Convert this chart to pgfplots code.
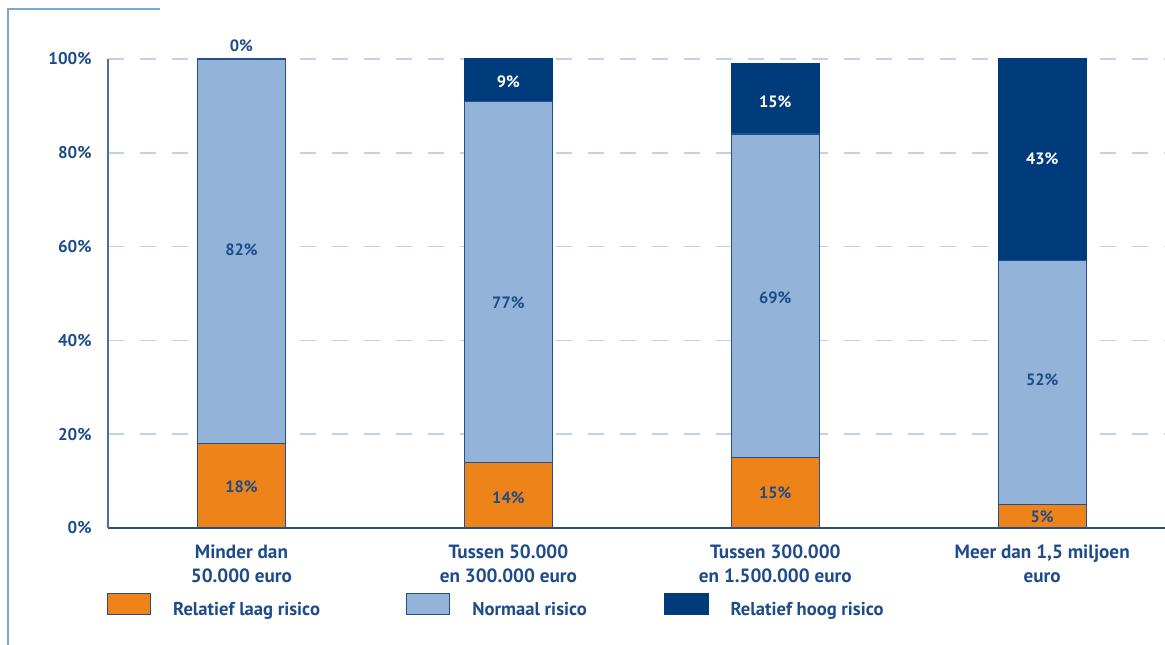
\documentclass[border=0pt]{standalone}
\usepackage{pgfplots}
\pgfplotsset{compat=1.18}
\usepackage{fontspec}
\setmainfont{PT Sans}
\definecolor{orangeb}{HTML}{EE8419}
\definecolor{lightb}{HTML}{94B3D9}
\definecolor{darkb}{HTML}{003B7B}
\definecolor{txtb}{HTML}{1E4C8A}
\definecolor{gridb}{HTML}{C3D1E6}
\definecolor{edgeb}{HTML}{23508C}
\definecolor{yaxisc}{HTML}{4C6E9C}
\definecolor{framec}{HTML}{7AA6D6}
\pgfplotsset{
  common/.style={scale only axis, width=528.5pt, height=234.5pt,
    xmin=-0.5, xmax=3.46, ymin=0, ymax=100, clip=false},
}
\begin{document}
\begin{tikzpicture}
\begin{axis}[
  common,
  ybar stacked, bar width=44pt,
  xtick={0,1,2,3},
  xticklabels={{Minder dan\\50.000 euro},{Tussen 50.000\\en 300.000 euro},{Tussen 300.000\\en 1.500.000 euro},{Meer dan 1,5 miljoen\\euro}},
  xticklabel style={align=center, font=\fontsize{9.6}{12}\selectfont\bfseries, text=txtb, anchor=north, inner sep=0pt, yshift=-8pt},
  ytick={0,20,40,60,80,100},
  yticklabels={0\%,20\%,40\%,60\%,80\%,100\%},
  yticklabel style={font=\fontsize{8.5}{12}\selectfont\bfseries, text=txtb, anchor=east, inner sep=0pt, xshift=-8pt},
  major tick length=0pt,
  tick style={draw=none},
  ymajorgrids, major grid style={gridb, line width=0.8pt, dash pattern=on 8pt off 8pt},
  axis x line*=bottom, axis y line*=left,
  x axis line style={-, draw=edgeb, line width=1pt},
  y axis line style={-, draw=yaxisc, line width=0.9pt},
  legend columns=3,
  legend style={draw=none, fill=none, at={(rel axis cs:0,0)}, anchor=north west, yshift=-32.5pt, xshift=-0.5pt, inner sep=0pt, outer sep=0pt, column sep=0pt, font=\fontsize{9.3}{12}\selectfont\bfseries, text=txtb, nodes={inner sep=0pt}},
  legend image code/.code={\draw[#1] (0pt,-2.25pt) rectangle (21.5pt,8.25pt);},
  /tikz/every odd column/.append style={column sep=11pt},
]
\addplot[fill=orangeb, draw=edgeb, line width=0.6pt] coordinates {(0,18) (1,14) (2,15) (3,5)};
\addlegendentry{\makebox[116.5pt][l]{Relatief laag risico}}
\addplot[fill=lightb, draw=edgeb, line width=0.6pt] coordinates {(0,82) (1,77) (2,69) (3,52)};
\addlegendentry{\makebox[96pt][l]{Normaal risico}}
\addplot[fill=darkb, draw=darkb, line width=0.6pt] coordinates {(0,0) (1,9) (2,15) (3,43)};
\addlegendentry{Relatief hoog risico}
\coordinate (O) at (rel axis cs:0,0);
\coordinate (T) at (rel axis cs:0,1);
\coordinate (R) at (rel axis cs:1,1);
\end{axis}
\begin{axis}[common, hide axis]
\addplot[only marks, mark=none, nodes near coords, point meta=explicit symbolic,
  every node near coord/.style={anchor=center, inner sep=0pt, font=\fontsize{8.2}{10}\selectfont\bfseries, text=txtb}]
  coordinates {(0,8.7) [18\%] (1,6.4) [14\%] (2,7.5) [15\%] (3,2.3) [5\%]
               (0,59.3) [82\%] (1,48) [77\%] (2,49) [69\%] (3,31.6) [52\%] (0,102.8) [0\%]};
\addplot[only marks, mark=none, nodes near coords, point meta=explicit symbolic,
  every node near coord/.style={anchor=center, inner sep=0pt, font=\fontsize{8.2}{10}\selectfont\bfseries, text=white}]
  coordinates {(1,95.1) [9\%] (2,90.8) [15\%] (3,78.7) [43\%]};
\end{axis}
\draw[framec, line width=0.8pt] ([xshift=-50pt,yshift=-70pt]O) -- ([xshift=-50pt,yshift=25pt]T) -- ([xshift=26pt,yshift=25pt]T);
\pgfresetboundingbox
\path[use as bounding box] ([xshift=-54pt,yshift=-58pt]O) rectangle ([yshift=29.5pt]R);
\end{tikzpicture}
\end{document}
